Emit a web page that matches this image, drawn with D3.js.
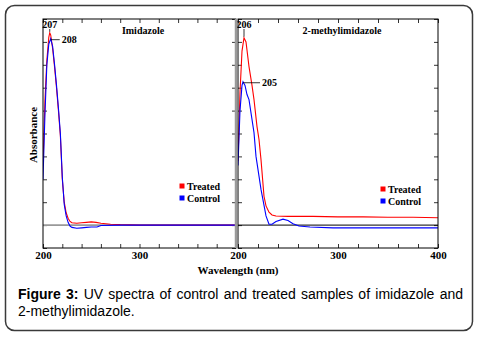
<!DOCTYPE html>
<html>
<head>
<script src="https://d3js.org/d3.v7.min.js"></script>
<style>
  body { margin: 0; background: #fff; }
  svg { display: block; }
  .tick text { font-family: "Liberation Serif", "Times New Roman", serif; font-weight: bold; font-size: 11px; fill: #000; }
  .tick line { stroke: #000; stroke-width: 0.8; }
</style>
</head>
<body>
<div id="chart"></div>
<script>
// ---- data ----
var panelTitles = ["Imidazole", "2-methylimidazole"];
var seriesNames = ["Treated", "Control"];
var seriesColors = ["#ff0000", "#0000ff"];

// Imidazole
var imidTreatedNm  = [200, 202, 204, 206, 207, 208, 210, 212, 214, 216, 218, 220, 222, 224, 226, 228, 230, 235, 240, 245, 250, 255, 260, 270, 280, 300, 330, 360, 400];
var imidTreatedAbs = [1.3, 2.7, 3.6, 4.1, 4.2, 4.15, 3.85, 3.45, 3.0, 2.5, 1.95, 1.0, 0.5, 0.27, 0.15, 0.08, 0.05, 0.04, 0.05, 0.06, 0.07, 0.06, 0.04, 0.02, 0.01, 0.0, 0.0, 0.0, 0.0];
var imidControlNm  = [200, 202, 204, 206, 208, 210, 212, 214, 216, 218, 220, 222, 224, 226, 228, 230, 235, 240, 245, 250, 256, 260, 280, 300, 330, 360, 400];
var imidControlAbs = [1.0, 2.4, 3.5, 3.95, 4.07, 3.9, 3.5, 3.05, 2.55, 2.0, 1.05, 0.45, 0.2, 0.06, -0.02, -0.05, -0.07, -0.06, -0.05, -0.04, -0.04, -0.01, 0.0, 0.0, 0.0, 0.0, 0.0];
var imidPeaks = [207, 208];

// 2-methylimidazole
var methTreatedNm  = [200, 202, 204, 206, 208, 211, 214, 216, 219, 221, 223, 226, 228, 231, 234, 238, 250, 275, 300, 325, 350, 375, 400];
var methTreatedAbs = [1.4, 2.9, 3.8, 4.09, 4.0, 3.46, 3.05, 2.74, 2.15, 1.87, 1.43, 0.63, 0.42, 0.28, 0.22, 0.2, 0.19, 0.19, 0.18, 0.18, 0.17, 0.17, 0.16];
var methControlNm  = [200, 202, 204, 205, 207, 209, 211, 216, 218, 223, 228, 231, 234, 238, 245, 250, 255, 261, 272, 295, 350, 400];
var methControlAbs = [1.3, 2.5, 3.05, 3.13, 3.05, 2.85, 2.74, 2.02, 1.5, 0.78, 0.2, 0.02, 0.02, 0.08, 0.13, 0.1, 0.03, -0.02, -0.04, -0.06, -0.06, -0.06];
var methPeaks = [206, 205];

var captionBold = "Figure 3:";
var captionLine1 = " UV spectra of control and treated samples of imidazole and";
var captionLine2 = "2-methylimidazole.";

// ---- layout ----
var W = 477, H = 338;
var plotTop = 19, plotBottom = 248;

var svg = d3.select("#chart").append("svg")
    .attr("width", W).attr("height", H);

svg.append("rect")
    .attr("x", 5.5).attr("y", 5.5)
    .attr("width", 467).attr("height", 325)
    .attr("rx", 9)
    .attr("fill", "none")
    .attr("stroke", "#3a3a3a")
    .attr("stroke-width", 1.5);

var y = d3.scaleLinear().domain([-0.5, 4.5]).range([plotBottom, plotTop]);
var yTicks = d3.range(-0.5, 4.51, 0.5);
var xMinor = d3.range(200, 401, 20);

var panels = [
  { x0: 43, x1: 236, title: panelTitles[0], titleX: 143, labels: [200, 300],
    series: [[imidTreatedNm, imidTreatedAbs], [imidControlNm, imidControlAbs]], peaks: imidPeaks,
    baseColor: "#999", baseWidth: 1.6, legendX: 182, legendY: 186 },
  { x0: 238, x1: 438, title: panelTitles[1], titleX: 342, labels: [200, 300, 400],
    series: [[methTreatedNm, methTreatedAbs], [methControlNm, methControlAbs]], peaks: methPeaks,
    baseColor: "#000", baseWidth: 1, legendX: 383, legendY: 189 }
];

var line = d3.line();

panels.forEach(function(p, i) {
  var x = d3.scaleLinear().domain([200, 400]).range([p.x0, p.x1]);
  var g = svg.append("g");

  g.append("clipPath").attr("id", "clip" + i)
    .append("rect").attr("x", p.x0).attr("y", plotTop)
    .attr("width", p.x1 - p.x0).attr("height", plotBottom - plotTop);

  // axes with inward ticks
  g.append("g").attr("transform", "translate(0," + plotBottom + ")")
    .call(d3.axisBottom(x).tickValues(xMinor).tickSize(-4).tickPadding(3)
      .tickFormat(function(d) { return p.labels.indexOf(d) >= 0 ? d : ""; }))
    .call(function(a) { a.select(".domain").remove(); });
  g.append("g").attr("transform", "translate(0," + plotTop + ")")
    .call(d3.axisTop(x).tickValues(xMinor).tickSize(-4).tickFormat(""))
    .call(function(a) { a.select(".domain").remove(); });
  g.append("g").attr("transform", "translate(" + p.x0 + ",0)")
    .call(d3.axisLeft(y).tickValues(yTicks).tickSize(-4).tickFormat(""))
    .call(function(a) { a.select(".domain").remove(); });
  g.append("g").attr("transform", "translate(" + p.x1 + ",0)")
    .call(d3.axisRight(y).tickValues(yTicks).tickSize(-4).tickFormat(""))
    .call(function(a) { a.select(".domain").remove(); });

  // zero line
  g.append("line")
    .attr("x1", p.x0).attr("x2", p.x1)
    .attr("y1", y(0)).attr("y2", y(0))
    .attr("stroke", p.baseColor).attr("stroke-width", p.baseWidth);

  // spectra
  p.series.forEach(function(s, k) {
    var pts = s[0].map(function(nm, j) { return [x(nm), y(s[1][j])]; });
    g.append("path")
      .attr("clip-path", "url(#clip" + i + ")")
      .attr("d", line(pts))
      .attr("fill", "none")
      .attr("stroke", seriesColors[k])
      .attr("stroke-width", 1.1);
  });

  // frame
  g.append("rect")
    .attr("x", p.x0).attr("y", plotTop)
    .attr("width", p.x1 - p.x0).attr("height", plotBottom - plotTop)
    .attr("fill", "none").attr("stroke", "#000").attr("stroke-width", 1);

  // title
  g.append("text")
    .attr("x", p.titleX).attr("y", 34)
    .attr("text-anchor", "middle")
    .attr("font-family", "Liberation Serif, Times New Roman, serif")
    .attr("font-weight", "bold").attr("font-size", 10)
    .text(p.title);

  // peak labels: first (treated) above, second (control) to the right
  var tIdx = p.series[0][0].indexOf(p.peaks[0]);
  var tx = x(p.peaks[0]), ty = y(p.series[0][1][tIdx]);
  g.append("line").attr("x1", tx).attr("x2", tx).attr("y1", ty - 1).attr("y2", 29)
    .attr("stroke", "#000").attr("stroke-width", 0.8);
  g.append("text").attr("x", tx).attr("y", 28)
    .attr("text-anchor", "middle")
    .attr("font-family", "Liberation Serif, Times New Roman, serif")
    .attr("font-weight", "bold").attr("font-size", 10)
    .text(p.peaks[0]);

  var cIdx = p.series[1][0].indexOf(p.peaks[1]);
  var cx = x(p.peaks[1]), cy = y(p.series[1][1][cIdx]);
  var leadLen = i === 0 ? 9 : 17;
  g.append("line").attr("x1", cx).attr("x2", cx + leadLen).attr("y1", cy + 1).attr("y2", cy + 1)
    .attr("stroke", "#000").attr("stroke-width", 0.8);
  g.append("text").attr("x", cx + leadLen + 2).attr("y", cy + 4.5)
    .attr("font-family", "Liberation Serif, Times New Roman, serif")
    .attr("font-weight", "bold").attr("font-size", 10)
    .text(p.peaks[1]);

  // legend
  seriesNames.forEach(function(name, k) {
    var ly = p.legendY + k * 12;
    g.append("rect").attr("x", p.legendX - 2.5).attr("y", ly - 2.5)
      .attr("width", 5).attr("height", 5).attr("fill", seriesColors[k]);
    g.append("text").attr("x", p.legendX + 5).attr("y", ly + 3.5)
      .attr("font-family", "Liberation Serif, Times New Roman, serif")
      .attr("font-weight", "bold").attr("font-size", 10)
      .text(name);
  });
});

// thick gray border between panels
svg.append("line").attr("x1", 236).attr("x2", 236).attr("y1", plotTop).attr("y2", plotBottom)
  .attr("stroke", "#9a9a9a").attr("stroke-width", 2.5);

// axis titles
svg.append("text")
  .attr("transform", "translate(37,135) rotate(-90)")
  .attr("text-anchor", "middle")
  .attr("font-family", "Liberation Serif, Times New Roman, serif")
  .attr("font-weight", "bold").attr("font-size", 11)
  .text("Absorbance");
svg.append("text")
  .attr("x", 238).attr("y", 274)
  .attr("text-anchor", "middle")
  .attr("font-family", "Liberation Serif, Times New Roman, serif")
  .attr("font-weight", "bold").attr("font-size", 11)
  .text("Wavelength (nm)");

// caption, first line justified
var cap1 = svg.append("text")
  .attr("x", 18).attr("y", 299)
  .attr("font-family", "Liberation Sans, Arial, sans-serif")
  .attr("font-size", 14).attr("fill", "#000");
cap1.append("tspan").attr("font-weight", "bold").text(captionBold);
cap1.append("tspan").text(captionLine1);
var natural = cap1.node().getComputedTextLength();
var spaces = (captionBold + captionLine1).split(" ").length - 1;
cap1.attr("word-spacing", (463 - 18 - natural) / spaces);

svg.append("text")
  .attr("x", 18).attr("y", 316)
  .attr("font-family", "Liberation Sans, Arial, sans-serif")
  .attr("font-size", 14).attr("fill", "#000")
  .text(captionLine2);
</script>
</body>
</html>
